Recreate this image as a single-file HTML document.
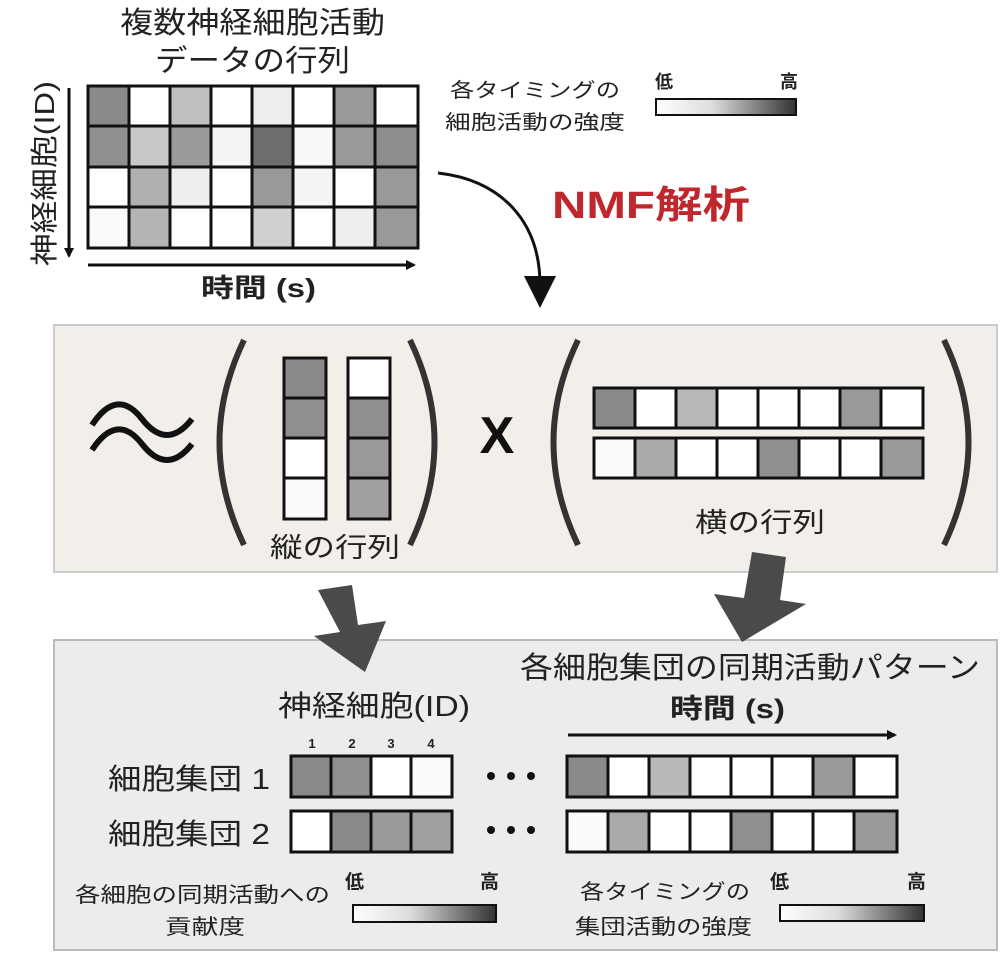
<!DOCTYPE html>
<html><head><meta charset="utf-8"><style>
html,body{margin:0;padding:0;background:#fff;}
svg text{font-family:"Liberation Sans","Noto Sans CJK JP",sans-serif;fill:#222;}
</style></head><body>
<svg width="1007" height="962" viewBox="0 0 1007 962" xmlns="http://www.w3.org/2000/svg">
<defs>
<linearGradient id="g" x1="0" x2="1"><stop offset="0" stop-color="#fff"/><stop offset="0.4" stop-color="#ddd"/><stop offset="1" stop-color="#333"/></linearGradient>
<marker id="ah" markerWidth="10" markerHeight="10" refX="8" refY="5" orient="auto" markerUnits="userSpaceOnUse"><path d="M0,0 L10,5 L0,10 Z" fill="#111"/></marker>
</defs>

<text x="120" y="33" font-size="30" textLength="265" lengthAdjust="spacingAndGlyphs">複数神経細胞活動</text>
<text x="155" y="71" font-size="30" textLength="195" lengthAdjust="spacingAndGlyphs">データの行列</text>

<g stroke="#111" stroke-width="3">
<rect x="88" y="86" width="41" height="40" fill="#8a8a8a"/><rect x="129" y="86" width="41" height="40" fill="#fff"/><rect x="170" y="86" width="41" height="40" fill="#c0c0c0"/><rect x="211" y="86" width="41" height="40" fill="#fff"/><rect x="252" y="86" width="41" height="40" fill="#eee"/><rect x="293" y="86" width="41" height="40" fill="#fff"/><rect x="334" y="86" width="41" height="40" fill="#999"/><rect x="375" y="86" width="43" height="40" fill="#fff"/>
<rect x="88" y="126" width="41" height="41" fill="#8f8f8f"/><rect x="129" y="126" width="41" height="41" fill="#c8c8c8"/><rect x="170" y="126" width="41" height="41" fill="#9a9a9a"/><rect x="211" y="126" width="41" height="41" fill="#f4f4f4"/><rect x="252" y="126" width="41" height="41" fill="#6e6e6e"/><rect x="293" y="126" width="41" height="41" fill="#f8f8f8"/><rect x="334" y="126" width="41" height="41" fill="#999"/><rect x="375" y="126" width="43" height="41" fill="#8d8d8d"/>
<rect x="88" y="167" width="41" height="40" fill="#fff"/><rect x="129" y="167" width="41" height="40" fill="#b0b0b0"/><rect x="170" y="167" width="41" height="40" fill="#eee"/><rect x="211" y="167" width="41" height="40" fill="#fff"/><rect x="252" y="167" width="41" height="40" fill="#999"/><rect x="293" y="167" width="41" height="40" fill="#f4f4f4"/><rect x="334" y="167" width="41" height="40" fill="#fff"/><rect x="375" y="167" width="43" height="40" fill="#999"/>
<rect x="88" y="207" width="41" height="41" fill="#fafafa"/><rect x="129" y="207" width="41" height="41" fill="#b4b4b4"/><rect x="170" y="207" width="41" height="41" fill="#fff"/><rect x="211" y="207" width="41" height="41" fill="#fff"/><rect x="252" y="207" width="41" height="41" fill="#d0d0d0"/><rect x="293" y="207" width="41" height="41" fill="#fff"/><rect x="334" y="207" width="41" height="41" fill="#eee"/><rect x="375" y="207" width="43" height="41" fill="#999"/>
</g>
<line x1="69" y1="88" x2="69" y2="256" stroke="#111" stroke-width="3" marker-end="url(#ah)"/>
<line x1="88" y1="265" x2="414" y2="265" stroke="#111" stroke-width="3" marker-end="url(#ah)"/>
<text font-size="28" transform="translate(54,266) rotate(-90)" x="0" y="0" textLength="185" lengthAdjust="spacingAndGlyphs">神経細胞(ID)</text>
<text x="201" y="297" font-size="26" font-weight="bold" textLength="115" lengthAdjust="spacingAndGlyphs">時間 (s)</text>

<text x="450" y="97" font-size="20" textLength="170" lengthAdjust="spacingAndGlyphs">各タイミングの</text>
<text x="445" y="129" font-size="20" textLength="180" lengthAdjust="spacingAndGlyphs">細胞活動の強度</text>
<text x="655" y="88" font-size="18" font-weight="bold">低</text>
<text x="780" y="88" font-size="18" font-weight="bold">高</text>
<rect x="656" y="99" width="140" height="16" fill="url(#g)" stroke="#111" stroke-width="2"/>

<text x="552" y="218" font-size="38" font-weight="bold" style="fill:#c0272d" textLength="198" lengthAdjust="spacingAndGlyphs">NMF解析</text>
<path d="M438,173 C500,180 540,220 540,285" fill="none" stroke="#111" stroke-width="3"/>
<path d="M524,276 L556,276 L540,308 Z" fill="#111"/>

<rect x="54" y="325" width="943" height="247" fill="#f2efea" stroke="#ccc" stroke-width="2"/>
<path d="M92,425 q25,-38 50,-6 t50,0" fill="none" stroke="#111" stroke-width="6"/>
<path d="M92,450 q25,-38 50,-6 t50,0" fill="none" stroke="#111" stroke-width="6"/>
<path d="M244,340 Q195,442 244,545" fill="none" stroke="#333" stroke-width="6"/>
<path d="M410,340 Q459,442 410,545" fill="none" stroke="#333" stroke-width="6"/>
<path d="M578,340 Q529,442 578,545" fill="none" stroke="#333" stroke-width="6"/>
<path d="M944,340 Q993,442 944,545" fill="none" stroke="#333" stroke-width="6"/>
<g stroke="#111" stroke-width="3">
<rect x="284" y="358" width="42" height="40" fill="#8a8a8a"/><rect x="284" y="398" width="42" height="40" fill="#8f8f8f"/><rect x="284" y="438" width="42" height="40" fill="#fff"/><rect x="284" y="478" width="42" height="41" fill="#fafafa"/>
<rect x="348" y="358" width="42" height="40" fill="#fff"/><rect x="348" y="398" width="42" height="40" fill="#8f8f8f"/><rect x="348" y="438" width="42" height="40" fill="#999"/><rect x="348" y="478" width="42" height="41" fill="#a0a0a0"/>
</g>
<text x="270" y="557" font-size="27" textLength="130" lengthAdjust="spacingAndGlyphs">縦の行列</text>
<text x="497" y="453" font-size="52" text-anchor="middle" font-weight="bold" style="fill:#111">X</text>
<g stroke="#111" stroke-width="3">
<rect x="594" y="388" width="41" height="40" fill="#8a8a8a"/><rect x="635" y="388" width="41" height="40" fill="#fff"/><rect x="676" y="388" width="41" height="40" fill="#b8b8b8"/><rect x="717" y="388" width="41" height="40" fill="#fff"/><rect x="758" y="388" width="41" height="40" fill="#fff"/><rect x="799" y="388" width="41" height="40" fill="#fff"/><rect x="840" y="388" width="41" height="40" fill="#999"/><rect x="881" y="388" width="42" height="40" fill="#fff"/>
<rect x="594" y="438" width="41" height="40" fill="#fafafa"/><rect x="635" y="438" width="41" height="40" fill="#aaa"/><rect x="676" y="438" width="41" height="40" fill="#fff"/><rect x="717" y="438" width="41" height="40" fill="#fff"/><rect x="758" y="438" width="41" height="40" fill="#8f8f8f"/><rect x="799" y="438" width="41" height="40" fill="#fff"/><rect x="840" y="438" width="41" height="40" fill="#fff"/><rect x="881" y="438" width="42" height="40" fill="#999"/>
</g>
<text x="695" y="532" font-size="27" textLength="130" lengthAdjust="spacingAndGlyphs">横の行列</text>

<rect x="54" y="640" width="943" height="310" fill="#ececec" stroke="#bbb" stroke-width="2"/>

<polygon points="318,590 352,585 358,625 386,621 365,672 314,636 340,632" fill="#4a4a4a"/>
<polygon points="752,552 786,557 780,600 806,604 742,642 714,594 744,598" fill="#4a4a4a"/>

<text x="520" y="678" font-size="30" textLength="460" lengthAdjust="spacingAndGlyphs">各細胞集団の同期活動パターン</text>
<text x="278" y="716" font-size="29" textLength="192" lengthAdjust="spacingAndGlyphs">神経細胞(ID)</text>
<text x="670" y="718" font-size="27" font-weight="bold" textLength="115" lengthAdjust="spacingAndGlyphs">時間 (s)</text>
<line x1="568" y1="735" x2="895" y2="735" stroke="#111" stroke-width="3" marker-end="url(#ah)"/>
<g font-size="13" font-weight="bold" text-anchor="middle"><text x="312" y="748">1</text><text x="352" y="748">2</text><text x="391" y="748">3</text><text x="431" y="748">4</text></g>
<text x="108" y="789" font-size="29" textLength="162" lengthAdjust="spacingAndGlyphs">細胞集団 1</text>
<text x="108" y="844" font-size="29" textLength="162" lengthAdjust="spacingAndGlyphs">細胞集団 2</text>
<g stroke="#111" stroke-width="3">
<rect x="291" y="756" width="40" height="41" fill="#8a8a8a"/><rect x="331" y="756" width="40" height="41" fill="#8f8f8f"/><rect x="371" y="756" width="40" height="41" fill="#fff"/><rect x="411" y="756" width="41" height="41" fill="#fafafa"/>
<rect x="291" y="811" width="40" height="41" fill="#fff"/><rect x="331" y="811" width="40" height="41" fill="#8a8a8a"/><rect x="371" y="811" width="40" height="41" fill="#999"/><rect x="411" y="811" width="41" height="41" fill="#a0a0a0"/>
<rect x="567" y="756" width="41" height="41" fill="#8a8a8a"/><rect x="608" y="756" width="41" height="41" fill="#fff"/><rect x="649" y="756" width="41" height="41" fill="#b8b8b8"/><rect x="690" y="756" width="41" height="41" fill="#fff"/><rect x="731" y="756" width="41" height="41" fill="#fff"/><rect x="772" y="756" width="41" height="41" fill="#fff"/><rect x="813" y="756" width="41" height="41" fill="#999"/><rect x="854" y="756" width="43" height="41" fill="#fff"/>
<rect x="567" y="811" width="41" height="41" fill="#fafafa"/><rect x="608" y="811" width="41" height="41" fill="#aaa"/><rect x="649" y="811" width="41" height="41" fill="#fff"/><rect x="690" y="811" width="41" height="41" fill="#fff"/><rect x="731" y="811" width="41" height="41" fill="#8f8f8f"/><rect x="772" y="811" width="41" height="41" fill="#fff"/><rect x="813" y="811" width="41" height="41" fill="#fff"/><rect x="854" y="811" width="43" height="41" fill="#999"/>
</g>
<g fill="#111"><circle cx="491" cy="776" r="4"/><circle cx="511" cy="776" r="4"/><circle cx="531" cy="776" r="4"/><circle cx="491" cy="830" r="4"/><circle cx="511" cy="830" r="4"/><circle cx="531" cy="830" r="4"/></g>

<text x="75" y="902" font-size="21" textLength="255" lengthAdjust="spacingAndGlyphs">各細胞の同期活動への</text>
<text x="165" y="934" font-size="21" textLength="80" lengthAdjust="spacingAndGlyphs">貢献度</text>
<text x="345" y="888" font-size="19" font-weight="bold">低</text>
<text x="480" y="888" font-size="19" font-weight="bold">高</text>
<rect x="353" y="905" width="143" height="17" fill="url(#g)" stroke="#111" stroke-width="2"/>
<text x="580" y="899" font-size="21" textLength="170" lengthAdjust="spacingAndGlyphs">各タイミングの</text>
<text x="575" y="934" font-size="21" textLength="177" lengthAdjust="spacingAndGlyphs">集団活動の強度</text>
<text x="770" y="888" font-size="19" font-weight="bold">低</text>
<text x="907" y="888" font-size="19" font-weight="bold">高</text>
<rect x="780" y="905" width="144" height="16" fill="url(#g)" stroke="#111" stroke-width="2"/>
</svg>
</body></html>
